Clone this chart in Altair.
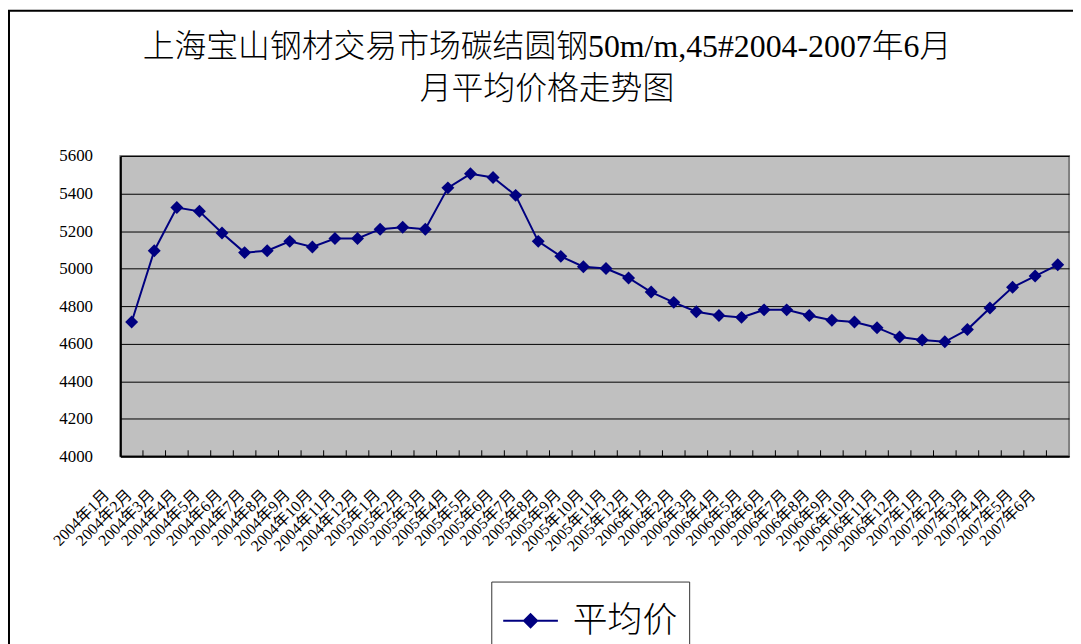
import altair as alt
import pandas as pd

months = (
    [f"2004年{m}月" for m in range(1, 13)]
    + [f"2005年{m}月" for m in range(1, 13)]
    + [f"2006年{m}月" for m in range(1, 13)]
    + [f"2007年{m}月" for m in range(1, 7)]
)
prices = [
    4715, 5095, 5325, 5305, 5190, 5085, 5095, 5145, 5115, 5160, 5160, 5210,
    5220, 5210, 5430, 5505, 5485, 5390, 5145, 5065, 5010, 5000, 4950, 4875,
    4820, 4770, 4750, 4740, 4780, 4780, 4750, 4725, 4715, 4685, 4635, 4620,
    4610, 4675, 4790, 4900, 4960, 5020,
]
series_name = "平均价"
y_ticks = [4000, 4200, 4400, 4600, 4800, 5000, 5200, 5400, 5600]
title_lines = ["上海宝山钢材交易市场碳结圆钢50m/m,45#2004-2007年6月", "月平均价格走势图"]

df = pd.DataFrame({"month": months, "price": prices, "series": series_name})

W, H = 954, 302
FONT = "'Liberation Serif', 'Times New Roman', 'Noto Sans CJK SC', serif"
NAVY = "#000080"

xscale = alt.Scale(type="band", paddingInner=0, paddingOuter=0)
yscale = alt.Scale(domain=[4000, 5600], nice=False, zero=False)

x_enc = alt.X(
    "month:N", sort=months, scale=xscale, bandPosition=0.5,
    axis=alt.Axis(
        title=None, labelAngle=-45, labelAlign="right", labelBaseline="middle",
        labelFont=FONT, labelFontSize=16, labelColor="black", labelOverlap=False,
        labelPadding=36, labelOffset=-25, ticks=False, domainColor="black",
        domainWidth=2, grid=False, labelFlush=False,
    ),
)
y_enc = alt.Y(
    "price:Q", scale=yscale,
    axis=alt.Axis(
        title=None, values=y_ticks, format="d", labelFont=FONT, labelFontSize=17,
        labelColor="black", ticks=False, labelPadding=28, domainColor="black",
        domainWidth=2, grid=True, gridColor="black", gridWidth=1,
    ),
)

base = alt.Chart(df)

line = base.mark_line(strokeWidth=2).encode(
    x=x_enc, y=y_enc,
    color=alt.Color(
        "series:N", scale=alt.Scale(range=[NAVY]),
        legend=alt.Legend(
            title=None, orient="none", legendX=373, legendY=428,
            symbolType="M-1,0L1,0M0,-0.24L0.24,0L0,0.24L-0.24,0Z",
            symbolSize=3025, symbolStrokeWidth=2, symbolStrokeColor=NAVY,
            symbolFillColor=NAVY, labelFont="Noto Sans CJK SC", labelFontSize=35,
            labelFontWeight=300, labelColor="black", labelOffset=14, padding=11,
            strokeColor="#333333", fillColor="white",
        ),
    ),
)

points = base.mark_point(shape="diamond", size=170, filled=True, opacity=1, color=NAVY).encode(
    x=x_enc, y=y_enc,
)

ticks = base.mark_rule(color="black", strokeWidth=1).encode(
    x=alt.X("month:N", sort=months, scale=xscale, bandPosition=0),
    y=alt.value(H),
    y2=alt.value(H - 6),
)

frame = alt.Chart(alt.Data(values=[{"a": 1}])).mark_rect(
    filled=False, stroke="black", strokeWidth=2
).encode(
    x=alt.value(-112), y=alt.value(-146), x2=alt.value(W + 200), y2=alt.value(H + 300)
)

chart = (
    alt.layer(frame, ticks, line, points)
    .properties(
        width=W, height=H,
        background="white",
        autosize=alt.AutoSizeParams(type="none"),
        padding={"left": 113, "top": 147, "right": 4, "bottom": 187},
        title=alt.TitleParams(
            text=title_lines, font=FONT, fontSize=32, fontWeight=300,
            color="black", anchor="middle", dx=-48, offset=-97, lineHeight=43,
        ),
    )
    .configure_view(fill="#C0C0C0", stroke="#808080", strokeWidth=2)
)

chart.save("out.html", embed_options={"renderer": "svg", "actions": False})
